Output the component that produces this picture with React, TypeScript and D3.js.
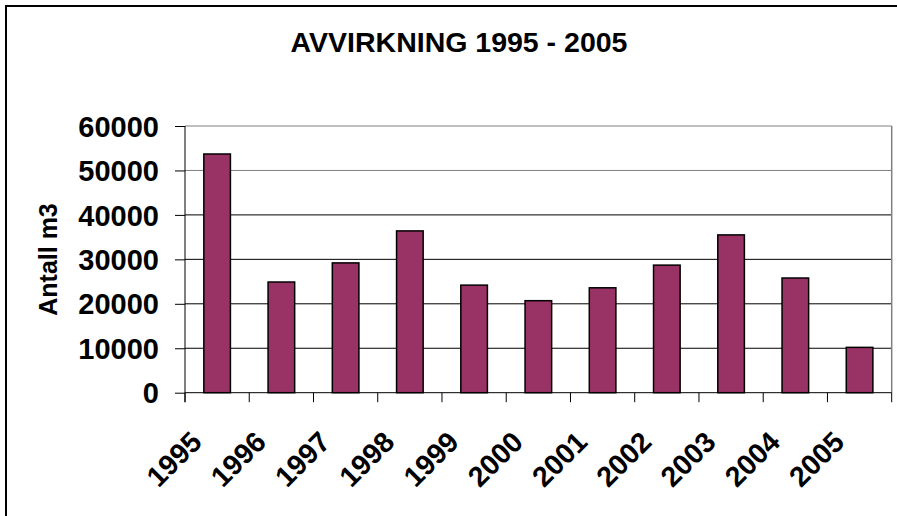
import React, { useEffect, useRef } from "react";
import * as d3 from "d3";

// values
const years = ["1995", "1996", "1997", "1998", "1999", "2000", "2001", "2002", "2003", "2004", "2005"];
const volumes = [53700, 24900, 29200, 36400, 24200, 20700, 23600, 28700, 35500, 25800, 10200];
const yTicks = [0, 10000, 20000, 30000, 40000, 50000, 60000];
const chartTitle = "AVVIRKNING 1995 - 2005";
const yTitle = "Antall m3";

const W = 897;
const H = 516;
const FONT = "'Liberation Sans', Arial, Helvetica, sans-serif";

const App = () => {
  const ref = useRef<SVGSVGElement>(null);

  useEffect(() => {
    draw();
  });

  const draw = () => {
    const left = 185;
    const right = 891.7;
    const top = 126;
    const bottom = 392.7;

    const svg = d3.select(ref.current);
    svg.selectAll("*").remove();

    svg.append("rect").attr("width", W).attr("height", H).attr("fill", "#fff");

    // outer chart frame (only left and top visible)
    svg.append("path")
      .attr("d", `M6,${H} L6,6 L${W},6`)
      .attr("fill", "none")
      .attr("stroke", "#000")
      .attr("stroke-width", 2);

    const x = d3.scaleBand().domain(years).range([left, right]).padding(0);
    const y = d3.scaleLinear().domain([0, 60000]).range([bottom, top]);

    // gridlines
    svg.append("g")
      .selectAll("line")
      .data(yTicks.filter((t) => t > 0))
      .enter()
      .append("line")
      .attr("x1", left)
      .attr("x2", right)
      .attr("y1", (d) => y(d))
      .attr("y2", (d) => y(d))
      .attr("stroke", (d) => (d >= 50000 ? "#808080" : "#000"))
      .attr("stroke-width", 1);

    // plot area border right side
    svg.append("line")
      .attr("x1", right).attr("x2", right)
      .attr("y1", top).attr("y2", bottom)
      .attr("stroke", "#808080")
      .attr("stroke-width", 1.5);

    // bars
    const bw = x.bandwidth() * 0.414;
    svg.append("g")
      .selectAll("rect")
      .data(volumes)
      .enter()
      .append("rect")
      .attr("x", (d, i) => (x(years[i]) as number) + x.bandwidth() / 2 - bw / 2)
      .attr("y", (d) => y(d))
      .attr("width", bw)
      .attr("height", (d) => bottom - y(d))
      .attr("fill", "#993366")
      .attr("stroke", "#000")
      .attr("stroke-width", 1.5);

    // y axis
    const yAxis = svg.append("g")
      .attr("transform", `translate(${left},0)`)
      .call(d3.axisLeft(y).tickValues(yTicks).tickSize(10).tickSizeOuter(0).tickFormat((d) => String(d)));
    yAxis.select(".domain").attr("stroke", "#000").attr("d", `M0,${top}V${bottom + 9.5}`);
    yAxis.selectAll(".tick line").attr("stroke", "#000");
    yAxis.selectAll(".tick text")
      .attr("x", -26)
      .attr("dy", "0.35em")
      .attr("fill", "#000")
      .style("font-family", FONT)
      .style("font-weight", "bold")
      .style("font-size", "29px");

    // x axis: ticks on category boundaries
    const bounds = years.map((yr) => x(yr) as number).concat([right]);
    const xg = svg.append("g");
    xg.append("line")
      .attr("x1", left).attr("x2", right)
      .attr("y1", bottom).attr("y2", bottom)
      .attr("stroke", "#000");
    xg.selectAll(".tk")
      .data(bounds)
      .enter()
      .append("line")
      .attr("x1", (d) => d).attr("x2", (d) => d)
      .attr("y1", bottom).attr("y2", bottom + 9.5)
      .attr("stroke", "#000");
    xg.selectAll("text")
      .data(years)
      .enter()
      .append("text")
      .attr("transform", (d) => {
        const cx = (x(d) as number) + x.bandwidth() / 2 - 13.7;
        return `translate(${cx},${bottom + 51}) rotate(-45)`;
      })
      .attr("text-anchor", "end")
      .style("font-family", FONT)
      .style("font-weight", "bold")
      .style("font-size", "28.5px")
      .text((d) => d);

    // titles
    svg.append("text")
      .attr("x", 459)
      .attr("y", 52)
      .attr("text-anchor", "middle")
      .style("font-family", FONT)
      .style("font-weight", "bold")
      .style("font-size", "28.5px")
      .text(chartTitle);

    svg.append("text")
      .attr("transform", "translate(56.5,259.5) rotate(-90)")
      .attr("text-anchor", "middle")
      .style("font-family", FONT)
      .style("font-weight", "bold")
      .style("font-size", "25px")
      .text(yTitle);
  };

  return (
    <svg
      ref={ref}
      width={W}
      height={H}
      style={{ position: "absolute", left: 0, top: 0, display: "block" }}
    />
  );
};

export default App;
